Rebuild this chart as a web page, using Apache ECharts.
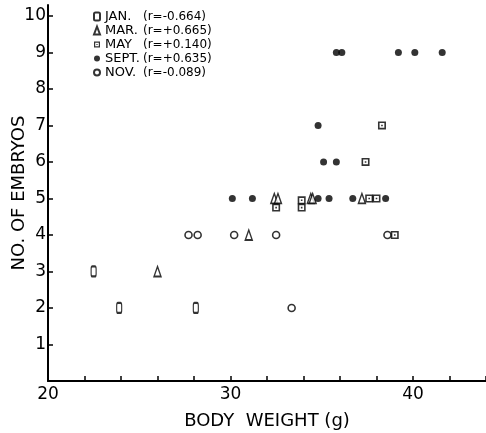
<!DOCTYPE html>
<html>
<head>
<meta charset="utf-8">
<script src="https://cdn.jsdelivr.net/npm/echarts@6/dist/echarts.min.js"></script>
<style>
  html, body { margin: 0; padding: 0; background: #fff; }
  #chart { width: 486px; height: 433px; }
</style>
</head>
<body>
<div id="chart"></div>
<script>
// Month groups, their correlation labels and the points
const months = ["JAN.", "MAR.", "MAY", "SEPT.", "NOV."];
const rValues = ["(r=-0.664)", "(r=+0.665)", "(r=+0.140)", "(r=+0.635)", "(r=-0.089)"];
const yTicks = [1, 2, 3, 4, 5, 6, 7, 8, 9, 10];

const janWeight  = [22.5, 23.9, 28.1];
const janEmbryos = [3, 2, 2];

const marWeight  = [26.0, 31.0, 32.4, 32.6, 34.4, 34.5, 37.2];
const marEmbryos = [3, 4, 5, 5, 5, 5, 5];

const mayWeight  = [32.5, 33.9, 33.9, 37.6, 38.0, 37.4, 38.3, 39.0];
const mayEmbryos = [4.75, 4.95, 4.75, 5, 5, 6, 7, 4];

const septWeight  = [30.1, 31.2, 34.8, 35.4, 36.7, 38.5, 34.8, 35.1, 35.8, 35.8, 36.1, 39.2, 40.1, 41.6];
const septEmbryos = [5, 5, 5, 5, 5, 5, 7, 6, 6, 9, 9, 9, 9, 9];

const novWeight  = [27.7, 28.2, 30.2, 32.5, 38.6, 33.35];
const novEmbryos = [4, 4, 4, 4, 4, 2];

// symbols: the "0" oval, open triangle, square with dot, filled dot, open circle
const squareDot = "path://M0,0 L10,0 L10,10 L0,10 Z M2,2 L2,8 L8,8 L8,2 Z M4,4 L6,4 L6,6 L4,6 Z";

function pairs(xs, ys) {
    return xs.map((x, i) => [x, ys[i]]);
}

const font = "'DejaVu Sans', sans-serif";

const chart = echarts.init(document.getElementById("chart"));

chart.setOption({
    animation: false,
    backgroundColor: "#fff",
    grid: { left: 48, right: 0, top: 5, bottom: 52, containLabel: false, outerBoundsMode: "none" },
    legend: {
        orient: "vertical",
        left: 88,
        top: 5,
        itemWidth: 6,
        itemHeight: 8,
        itemGap: 1,
        data: months,
        formatter: name => {
            const i = months.indexOf(name);
            return `{m|${name}}{r|${rValues[i]}}`;
        },
        textStyle: {
            color: "#000",
            rich: {
                m: { fontFamily: font, fontSize: 13, lineHeight: 13, color: "#000", width: 38 },
                r: { fontFamily: font, fontSize: 12, lineHeight: 13, color: "#000" }
            }
        }
    },
    xAxis: {
        type: "value",
        min: 20,
        max: 44,
        interval: 2,
        name: "BODY  WEIGHT (g)",
        nameLocation: "middle",
        nameGap: 31,
        nameMoveOverlap: false,
        nameTextStyle: { fontFamily: font, fontSize: 18, color: "#000" },
        axisLine: { lineStyle: { color: "#000", width: 2 } },
        axisTick: { inside: true, length: 5, lineStyle: { color: "#000", width: 1.5 } },
        axisLabel: {
            fontFamily: font, fontSize: 17, color: "#000", margin: 5,
            formatter: v => (v % 10 === 0 ? String(v) : "")
        },
        splitLine: { show: false }
    },
    yAxis: {
        type: "value",
        min: 0,
        max: 10.3,
        interval: 1,
        name: "NO. OF EMBRYOS",
        nameLocation: "middle",
        nameGap: 20,
        nameMoveOverlap: false,
        nameTextStyle: { fontFamily: font, fontSize: 18, color: "#000" },
        axisLine: { lineStyle: { color: "#000", width: 2 } },
        axisTick: { inside: true, length: 5, customValues: yTicks, lineStyle: { color: "#000", width: 1.5 } },
        axisLabel: {
            fontFamily: font, fontSize: 17, color: "#000", margin: 2,
            customValues: yTicks
        },
        splitLine: { show: false }
    },
    series: [
        {
            name: "JAN.", type: "scatter", data: pairs(janWeight, janEmbryos),
            symbol: "roundRect", symbolSize: [5, 10],
            itemStyle: { color: "#fff", borderColor: "#000", borderWidth: 1.6 }
        },
        {
            name: "MAR.", type: "scatter", data: pairs(marWeight, marEmbryos),
            symbol: "triangle", symbolSize: [7, 10],
            itemStyle: { color: "#fff", borderColor: "#000", borderWidth: 1.5 }
        },
        {
            name: "MAY", type: "scatter", data: pairs(mayWeight, mayEmbryos),
            symbol: squareDot, symbolSize: 8,
            itemStyle: { color: "#000" }
        },
        {
            name: "SEPT.", type: "scatter", data: pairs(septWeight, septEmbryos),
            symbol: "circle", symbolSize: 7,
            itemStyle: { color: "#000" }
        },
        {
            name: "NOV.", type: "scatter", data: pairs(novWeight, novEmbryos),
            symbol: "circle", symbolSize: 7,
            itemStyle: { color: "#fff", borderColor: "#000", borderWidth: 1.6 }
        }
    ]
});
</script>
</body>
</html>
